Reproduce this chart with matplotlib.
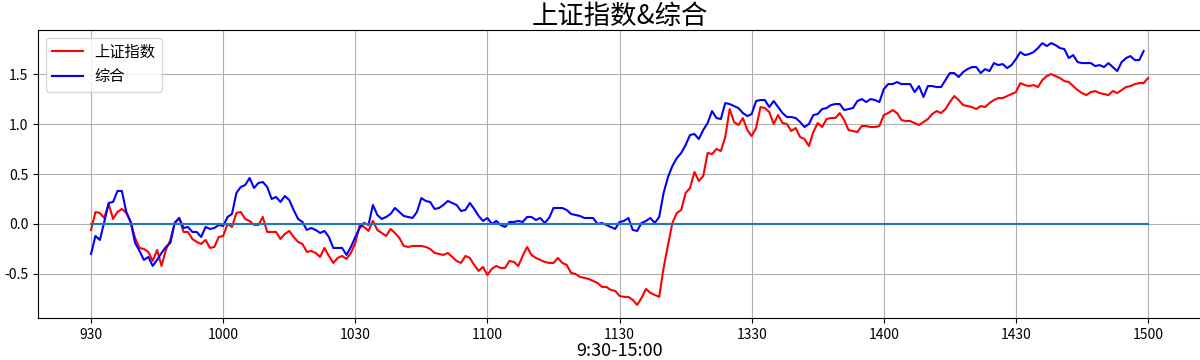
import matplotlib
matplotlib.use('Agg')
import matplotlib.pyplot as plt
import numpy as np

plt.rcParams['font.family'] = ['Noto Sans CJK SC', 'DejaVu Sans']
plt.rcParams['axes.unicode_minus'] = False

# 上证指数 minute values, 9:30 -> 15:00
sh_index = [
    -0.06, 0.12, 0.11, 0.06, 0.20, 0.05, 0.12, 0.15, 0.11, 0.02,
    -0.14, -0.24, -0.25, -0.28, -0.37, -0.26, -0.42, -0.26, -0.16, 0.01,
    0.06, -0.08, -0.08, -0.15, -0.18, -0.20, -0.16, -0.24, -0.23, -0.13,
    -0.12, 0.00, -0.03, 0.11, 0.12, 0.05, 0.03, -0.01, -0.01, 0.07,
    -0.08, -0.08, -0.08, -0.15, -0.10, -0.07, -0.13, -0.18, -0.20, -0.28,
    -0.27, -0.29, -0.33, -0.24, -0.32, -0.39, -0.34, -0.32, -0.35, -0.29,
    -0.19, -0.01, -0.03, -0.07, 0.03, -0.06, -0.09, -0.12, -0.05, -0.09,
    -0.14, -0.22, -0.23, -0.22, -0.22, -0.22, -0.23, -0.25, -0.29, -0.30,
    -0.31, -0.29, -0.33, -0.37, -0.39, -0.32, -0.34, -0.41, -0.47, -0.43,
    -0.51, -0.45, -0.42, -0.44, -0.44, -0.37, -0.38, -0.42, -0.32, -0.23,
    -0.31, -0.34, -0.36, -0.38, -0.39, -0.39, -0.34, -0.39, -0.41, -0.49,
    -0.50, -0.53, -0.54, -0.55, -0.57, -0.59, -0.63, -0.63, -0.66, -0.67,
    -0.72, -0.73, -0.73, -0.76, -0.81, -0.74, -0.65, -0.69, -0.71, -0.73,
    -0.44, -0.21, 0.01, 0.11, 0.14, 0.31, 0.36, 0.52, 0.43, 0.48,
    0.71, 0.70, 0.75, 0.73, 0.87, 1.15, 1.02, 0.99, 1.06, 0.94,
    0.88, 0.96, 1.17, 1.16, 1.12, 1.00, 1.09, 1.01, 1.00, 0.93,
    0.96, 0.87, 0.85, 0.78, 0.92, 1.01, 0.97, 1.05, 1.06, 1.06,
    1.11, 1.04, 0.94, 0.93, 0.92, 0.98, 0.98, 0.97, 0.97, 0.98,
    1.09, 1.11, 1.14, 1.11, 1.04, 1.03, 1.03, 1.01, 0.99, 1.02,
    1.05, 1.10, 1.13, 1.11, 1.15, 1.22, 1.28, 1.24, 1.19, 1.18,
    1.17, 1.15, 1.18, 1.17, 1.21, 1.24, 1.26, 1.26, 1.28, 1.30,
    1.32, 1.41, 1.39, 1.38, 1.39, 1.37, 1.44, 1.48, 1.50, 1.48,
    1.46, 1.43, 1.42, 1.38, 1.34, 1.31, 1.29, 1.32, 1.33, 1.31,
    1.30, 1.29, 1.33, 1.31, 1.34, 1.37, 1.38, 1.40, 1.41, 1.41,
    1.46,
]

# 综合
composite = [
    -0.30, -0.12, -0.16, 0.02, 0.21, 0.22, 0.33, 0.33, 0.12, 0.02,
    -0.19, -0.27, -0.36, -0.33, -0.42, -0.36, -0.29, -0.23, -0.19, 0.01,
    0.06, -0.04, -0.03, -0.08, -0.08, -0.13, -0.03, -0.05, -0.04, -0.01,
    -0.02, 0.07, 0.10, 0.31, 0.37, 0.39, 0.46, 0.36, 0.41, 0.42,
    0.37, 0.25, 0.27, 0.22, 0.28, 0.24, 0.14, 0.05, 0.02, -0.06,
    -0.04, -0.06, -0.09, -0.07, -0.13, -0.24, -0.24, -0.24, -0.31, -0.23,
    -0.13, -0.04, 0.01, -0.01, 0.19, 0.09, 0.05, 0.07, 0.10, 0.16,
    0.12, 0.08, 0.07, 0.06, 0.12, 0.26, 0.23, 0.22, 0.15, 0.16,
    0.19, 0.23, 0.21, 0.19, 0.13, 0.14, 0.21, 0.15, 0.08, 0.03,
    0.06, 0.00, 0.03, -0.01, -0.03, 0.02, 0.02, 0.03, 0.02, 0.07,
    0.07, 0.04, 0.06, 0.01, 0.06, 0.16, 0.16, 0.16, 0.14, 0.10,
    0.09, 0.08, 0.06, 0.06, 0.06, 0.00, 0.01, -0.01, -0.03, -0.05,
    0.02, 0.03, 0.06, -0.06, -0.07, 0.01, 0.03, 0.06, 0.01, 0.07,
    0.31, 0.47, 0.58, 0.66, 0.71, 0.79, 0.89, 0.90, 0.85, 0.94,
    1.01, 1.13, 1.06, 1.05, 1.21, 1.20, 1.18, 1.16, 1.11, 1.08,
    1.10, 1.23, 1.24, 1.24, 1.17, 1.23, 1.17, 1.11, 1.07, 1.07,
    1.06, 1.02, 0.97, 1.00, 1.09, 1.10, 1.15, 1.16, 1.19, 1.20,
    1.20, 1.14, 1.15, 1.16, 1.23, 1.25, 1.22, 1.25, 1.24, 1.22,
    1.35, 1.40, 1.40, 1.42, 1.40, 1.40, 1.40, 1.32, 1.38, 1.27,
    1.38, 1.38, 1.37, 1.37, 1.44, 1.51, 1.51, 1.47, 1.52, 1.55,
    1.57, 1.57, 1.51, 1.55, 1.53, 1.61, 1.59, 1.60, 1.56, 1.59,
    1.65, 1.72, 1.69, 1.70, 1.72, 1.76, 1.81, 1.78, 1.81, 1.79,
    1.76, 1.75, 1.66, 1.69, 1.62, 1.61, 1.61, 1.61, 1.58, 1.59,
    1.57, 1.61, 1.57, 1.53, 1.62, 1.66, 1.68, 1.64, 1.64, 1.73,
]

tick_labels = ['930', '1000', '1030', '1100', '1130', '1330', '1400', '1430', '1500']


fig = plt.figure(figsize=(12, 3.6), dpi=100)
ax = fig.add_axes([38.2 / 1200, 1 - 318 / 360, 1162.7 / 1200, 288 / 360])

ax.plot(range(len(sh_index)), sh_index, color='red', label='上证指数')
ax.plot(range(len(composite)), composite, color='blue', label='综合')
ax.plot(range(len(sh_index)), np.zeros(len(sh_index)))  # zero line

ax.set_xticks(range(0, 30 * len(tick_labels), 30))
ax.set_xticklabels(tick_labels)
ax.grid(True)
ax.legend(loc='upper left', fontsize=11)
ax.set_title('上证指数&综合', fontsize=19, pad=4)
ax.set_xlabel('9:30-15:00', fontsize=13, labelpad=0)

fig.savefig('out.png')
